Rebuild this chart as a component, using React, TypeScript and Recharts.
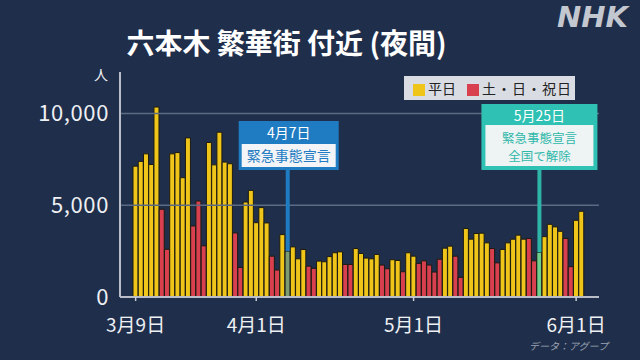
import React from 'react';
import { BarChart, Bar, XAxis, YAxis, Cell, ReferenceDot, ReferenceLine } from 'recharts';

const categories = [
  '3/9','3/10','3/11','3/12','3/13','3/14','3/15',
  '3/16','3/17','3/18','3/19','3/20','3/21','3/22',
  '3/23','3/24','3/25','3/26','3/27','3/28','3/29',
  '3/30','3/31','4/1','4/2','4/3','4/4','4/5',
  '4/6','4/7','4/8','4/9','4/10','4/11','4/12',
  '4/13','4/14','4/15','4/16','4/17','4/18','4/19',
  '4/20','4/21','4/22','4/23','4/24','4/25','4/26',
  '4/27','4/28','4/29','4/30','5/1','5/2','5/3',
  '5/4','5/5','5/6','5/7','5/8','5/9','5/10',
  '5/11','5/12','5/13','5/14','5/15','5/16','5/17',
  '5/18','5/19','5/20','5/21','5/22','5/23','5/24',
  '5/25','5/26','5/27','5/28','5/29','5/30','5/31',
  '6/1','6/2',
];

const visitors = [
  7130, 7390, 7800, 7220, 10350, 4780, 2600,
  7800, 7870, 6500, 8670, 3870, 5230, 2790,
  8420, 7200, 8980, 7350, 7260, 3490, 1610,
  5175, 5810, 4050, 4870, 4035, 2225, 1470,
  3400, 2500, 2730, 2080, 2590, 1680, 1560,
  1955, 1920, 2200, 2410, 2460, 1775, 1775,
  2640, 2370, 2120, 2080, 2320, 1740, 1540,
  2030, 1990, 1375, 2410, 2225, 1830, 1970,
  1740, 1360, 2060, 2660, 2770, 2225, 1070,
  3730, 3150, 3460, 3475, 2950, 2640, 1860,
  2590, 2950, 3150, 3370, 3150, 3190, 1970,
  2430, 3290, 3960, 3820, 3580, 3190, 1650,
  4180, 4670,
];

// w = 平日, h = 土・日・祝日, a = 4月7日, b = 5月25日
const dayTypes = [
  'w','w','w','w','w','h','h',
  'w','w','w','w','h','h','h',
  'w','w','w','w','w','h','h',
  'w','w','w','w','w','h','h',
  'w','a','w','w','w','h','h',
  'w','w','w','w','w','h','h',
  'w','w','w','w','w','h','h',
  'w','w','h','w','w','h','h',
  'h','h','h','w','w','h','h',
  'w','w','w','w','w','h','h',
  'w','w','w','w','w','h','h',
  'b','w','w','w','w','h','h',
  'w','w',
];

const typeColors: Record<string, string> = {
  w: '#f0c51a',
  h: '#d8404f',
  a: '#7c9c74',
  b: '#6fcf8c',
};

const tickDates = ['3/9', '4/1', '5/1', '6/1'];
const tickLabels = ['3月9日', '4月1日', '5月1日', '6月1日'];
const yTicks = [0, 5000, 10000];
const yTickLabels = ['0', '5,000', '10,000'];
const gridValues = [5000, 10000];

const event1Date = '4/7';
const event1Title = '4月7日';
const event1Lines = ['緊急事態宣言'];
const event2Date = '5/25';
const event2Title = '5月25日';
const event2Lines = ['緊急事態宣言', '全国で解除'];
const calloutBottomValue = 6920;

const data = categories.map((c, i) => ({ date: c, value: visitors[i], type: dayTypes[i] }));

const FONT = '"Noto Sans CJK JP", "Noto Sans", sans-serif';

const XTick = (props: any) => {
  const { x, y, payload } = props;
  const i = tickDates.indexOf(payload.value);
  if (i < 0) return <g />;
  return (
    <g>
      <line x1={x} x2={x} y1={y} y2={y + 4} stroke="#c8ccd4" strokeWidth={1.5} />
      <text x={x} y={y + 35} textAnchor="middle" fill="#eef0f4" fontSize={19} fontFamily={FONT}>
        {tickLabels[i]}
      </text>
    </g>
  );
};

const YTick = (props: any) => {
  const { x, y, payload } = props;
  const i = yTicks.indexOf(payload.value);
  return (
    <text x={x} y={y + 8} textAnchor="end" fill="#eef0f4" fontSize={22} letterSpacing={0.6} fontFamily={FONT}>
      {i >= 0 ? yTickLabels[i] : ''}
    </text>
  );
};

const Callout1 = (props: any) => {
  const { cx, cy } = props;
  const w = 100;
  const h = 49;
  return (
    <g>
      <rect x={cx - w / 2 + 1} y={cy - h} width={w} height={h} fill="#1f7cc2" />
      <text x={cx + 1} y={cy - h + 17} textAnchor="middle" fill="#ffffff" fontSize={14} fontFamily={FONT}>
        {event1Title}
      </text>
      <rect x={cx - w / 2 + 4} y={cy - 26} width={w - 6} height={23} fill="#f2f4f7" />
      <text x={cx + 1} y={cy - 9} textAnchor="middle" fill="#1f7cc2" fontSize={14} fontFamily={FONT}>
        {event1Lines[0]}
      </text>
    </g>
  );
};

const Callout2 = (props: any) => {
  const { cx, cy } = props;
  const w = 116;
  const h = 66;
  return (
    <g>
      <rect x={cx - w / 2} y={cy - h} width={w} height={h} fill="#2fc1b3" />
      <text x={cx} y={cy - h + 17} textAnchor="middle" fill="#ffffff" fontSize={14} fontFamily={FONT}>
        {event2Title}
      </text>
      <rect x={cx - w / 2 + 4} y={cy - 45} width={w - 8} height={41} fill="#eef3f3" />
      <text x={cx} y={cy - 27} textAnchor="middle" fill="#2fb8aa" fontSize={12.5} fontFamily={FONT}>
        {event2Lines[0]}
      </text>
      <text x={cx} y={cy - 9} textAnchor="middle" fill="#2fb8aa" fontSize={12.5} fontFamily={FONT}>
        {event2Lines[1]}
      </text>
    </g>
  );
};

export default function App() {
  return (
    <div
      style={{
        position: 'fixed',
        left: 0,
        top: 0,
        width: 640,
        height: 360,
        background: '#1f2e4a',
        overflow: 'hidden',
        fontFamily: FONT,
      }}
    >
      <div
        style={{
          position: 'absolute',
          left: 0,
          width: 573,
          top: 23,
          textAlign: 'center',
          color: '#ffffff',
          fontSize: 28,
          fontWeight: 700,
          lineHeight: '38px',
        }}
      >
        六本木 繁華街 付近 (夜間)
      </div>
      <div
        style={{
          position: 'absolute',
          left: 557,
          top: 0,
          color: '#c3c7cf',
          fontSize: 29,
          fontWeight: 900,
          fontStyle: 'italic',
          fontFamily: '"DejaVu Sans", sans-serif',
        }}
      >
        NHK
      </div>
      <div style={{ position: 'absolute', left: 94, top: 64, color: '#eef0f4', fontSize: 14 }}>人</div>
      <div
        style={{
          position: 'absolute',
          left: 404,
          top: 76,
          width: 171,
          height: 24,
          background: '#d9dce2',
        }}
      >
        <div style={{ position: 'absolute', left: 9, top: 8, width: 12, height: 12, background: typeColors.w }} />
        <div style={{ position: 'absolute', left: 24, top: 2, fontSize: 14, color: '#222', lineHeight: '20px' }}>平日</div>
        <div style={{ position: 'absolute', left: 63, top: 8, width: 12, height: 12, background: typeColors.h }} />
        <div style={{ position: 'absolute', left: 78, top: 2, fontSize: 14, color: '#222', lineHeight: '20px', letterSpacing: 1 }}>
          土・日・祝日
        </div>
      </div>
      <div
        style={{
          position: 'absolute',
          left: 528,
          top: 338,
          width: 80,
          textAlign: 'right',
          color: '#9ca4b4',
          fontSize: 10,
          fontStyle: 'italic',
        }}
      >
        データ：アグープ
      </div>
      <div style={{ position: 'absolute', left: 0, top: 0 }}>
        <BarChart
          width={640}
          height={360}
          data={data}
          margin={{ top: 72, right: 41, left: 0, bottom: 0 }}
          barCategoryGap={0}
        >
          <XAxis
            dataKey="date"
            height={63}
            padding={{ left: 13, right: 15 }}
            interval={0}
            tickLine={false}
            tickSize={0}
            tickMargin={0}
            tick={<XTick />}
            axisLine={{ stroke: '#b9bdc8', strokeWidth: 2 }}
          />
          <YAxis
            width={120}
            domain={[0, 12260]}
            ticks={yTicks}
            tickLine={false}
            tickSize={0}
            tickMargin={11}
            tick={<YTick />}
            axisLine={{ stroke: '#b9bdc8', strokeWidth: 2 }}
            allowDataOverflow
          />
          {gridValues.map((g) => (
            <ReferenceLine key={g} y={g} stroke="#5d6b82" strokeWidth={1.5} />
          ))}
          <Bar dataKey="value" isAnimationActive={false} stroke="#1b1b12" strokeWidth={1}>
            {data.map((d, i) => (
              <Cell key={i} fill={typeColors[d.type]} />
            ))}
          </Bar>
          <ReferenceLine
            segment={[
              { x: event1Date, y: visitors[categories.indexOf(event1Date)] },
              { x: event1Date, y: calloutBottomValue },
            ]}
            stroke="#1f7cc2"
            strokeWidth={4}
            ifOverflow="visible"
          />
          <ReferenceLine
            segment={[
              { x: event2Date, y: visitors[categories.indexOf(event2Date)] },
              { x: event2Date, y: calloutBottomValue },
            ]}
            stroke="#2fb4a8"
            strokeWidth={4}
            ifOverflow="visible"
          />
          <ReferenceDot x={event1Date} y={calloutBottomValue} r={0} ifOverflow="visible" shape={(p: any) => <Callout1 {...p} />} />
          <ReferenceDot x={event2Date} y={calloutBottomValue} r={0} ifOverflow="visible" shape={(p: any) => <Callout2 {...p} />} />
        </BarChart>
      </div>
    </div>
  );
}
